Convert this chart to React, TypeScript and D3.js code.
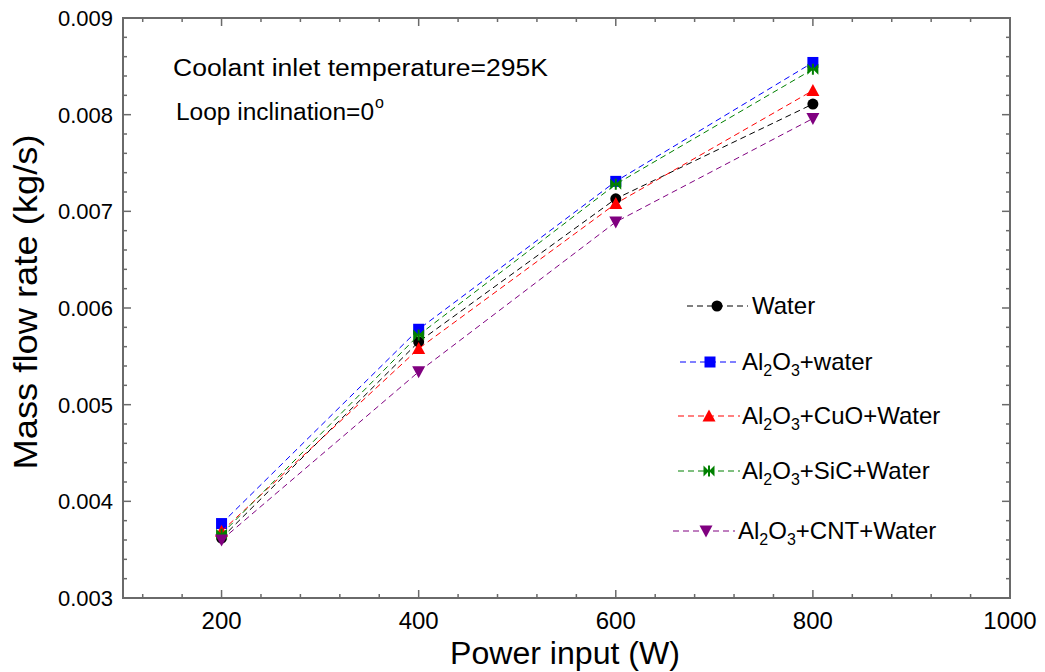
import React from "react";
import * as d3 from "d3";

const powers = [200, 400, 600, 800];
const water = [0.00362, 0.00565, 0.00713, 0.00811];
const al2o3Water = [0.00377, 0.00578, 0.00731, 0.00854];
const cuoWater = [0.00369, 0.00558, 0.00708, 0.00825];
const sicWater = [0.00366, 0.00572, 0.00728, 0.00847];
const cntWater = [0.0036, 0.00534, 0.00689, 0.00796];

const xMajorTicks = [200, 400, 600, 800, 1000];
const yMajorTicks = [0.003, 0.004, 0.005, 0.006, 0.007, 0.008, 0.009];

type Series = { name: string; values: number[]; color: string; marker: string; parts: [string, string][] };

const series: Series[] = [
  { name: "Water", values: water, color: "#000000", marker: "circle", parts: [["Water", "n"]] },
  { name: "Al2O3+water", values: al2o3Water, color: "#0000ff", marker: "square", parts: [["Al", "n"], ["2", "s"], ["O", "n"], ["3", "s"], ["+water", "n"]] },
  { name: "Al2O3+CuO+Water", values: cuoWater, color: "#ff0000", marker: "triangle", parts: [["Al", "n"], ["2", "s"], ["O", "n"], ["3", "s"], ["+CuO+Water", "n"]] },
  { name: "Al2O3+SiC+Water", values: sicWater, color: "#008000", marker: "bowtie", parts: [["Al", "n"], ["2", "s"], ["O", "n"], ["3", "s"], ["+SiC+Water", "n"]] },
  { name: "Al2O3+CNT+Water", values: cntWater, color: "#800080", marker: "down", parts: [["Al", "n"], ["2", "s"], ["O", "n"], ["3", "s"], ["+CNT+Water", "n"]] },
];

const legendRows = [
  { y: 306, x1: 687, x2: 748, mx: 717, tx: 752 },
  { y: 362, x1: 680, x2: 740, mx: 710, tx: 742 },
  { y: 416, x1: 678, x2: 740, mx: 709, tx: 742 },
  { y: 471, x1: 678, x2: 740, mx: 709, tx: 742 },
  { y: 531, x1: 673, x2: 735, mx: 706, tx: 738 },
];

function Marker({ type, x, y, color }: { type: string; x: number; y: number; color: string }) {
  if (type === "circle") return <circle cx={x} cy={y} r={5.5} fill={color} />;
  if (type === "square") return <rect x={x - 5.5} y={y - 5.5} width={11} height={11} fill={color} />;
  if (type === "triangle") return <path d={`M${x},${y - 6.5}L${x + 6.5},${y + 5.5}L${x - 6.5},${y + 5.5}Z`} fill={color} />;
  if (type === "down") return <path d={`M${x - 6.5},${y - 5.5}L${x + 6.5},${y - 5.5}L${x},${y + 6.5}Z`} fill={color} />;
  // bowtie
  return (
    <g fill={color}>
      <path d={`M${x - 5.5},${y - 5.5}L${x},${y}L${x - 5.5},${y + 5.5}Z`} />
      <path d={`M${x + 5.5},${y - 5.5}L${x},${y}L${x + 5.5},${y + 5.5}Z`} />
      <rect x={x - 1} y={y - 5.5} width={2} height={11} />
    </g>
  );
}

export default function App() {
  const left = 123, right = 1010, top = 18, bottom = 598;
  const x = d3.scaleLinear().domain([100, 1000]).range([left, right]);
  const y = d3.scaleLinear().domain([0.003, 0.009]).range([bottom, top]);
  const line = d3.line<number>();
  const font = "Liberation Sans, Arial, sans-serif";
  const frame = "#6a6a6a";

  const xMinor = d3.range(120, 1000, 40).filter((v) => !xMajorTicks.includes(v));
  const yMinor = d3.range(0.0032, 0.009, 0.0002).filter((v) => !yMajorTicks.some((m) => Math.abs(m - v) < 1e-9));

  return (
    <svg width={1045} height={672} style={{ position: "absolute", left: 0, top: 0, background: "#fff" }} fontFamily={font}>
      <rect x={0} y={0} width={1045} height={672} fill="#fff" />
      {/* ticks */}
      <g stroke={frame} strokeWidth={1.5}>
        {xMajorTicks.map((t) => (
          <g key={"xm" + t}>
            <line x1={x(t)} x2={x(t)} y1={bottom} y2={bottom - 8} />
            <line x1={x(t)} x2={x(t)} y1={top} y2={top + 8} />
          </g>
        ))}
        {xMinor.map((t) => (
          <g key={"xn" + t}>
            <line x1={x(t)} x2={x(t)} y1={bottom} y2={bottom - 4} />
            <line x1={x(t)} x2={x(t)} y1={top} y2={top + 4} />
          </g>
        ))}
        {yMajorTicks.map((t) => (
          <g key={"ym" + t}>
            <line x1={left} x2={left + 8} y1={y(t)} y2={y(t)} />
            <line x1={right} x2={right - 8} y1={y(t)} y2={y(t)} />
          </g>
        ))}
        {yMinor.map((t, i) => (
          <g key={"yn" + i}>
            <line x1={left} x2={left + 4} y1={y(t)} y2={y(t)} />
            <line x1={right} x2={right - 4} y1={y(t)} y2={y(t)} />
          </g>
        ))}
      </g>
      <rect x={left} y={top} width={right - left} height={bottom - top} fill="none" stroke={frame} strokeWidth={2} />

      {/* tick labels */}
      {xMajorTicks.map((t) => (
        <text key={"xl" + t} x={x(t)} y={629} textAnchor="middle" fontSize={24} fill="#000">
          {t}
        </text>
      ))}
      {yMajorTicks.map((t) => (
        <text key={"yl" + t} x={113} y={y(t) + 8} textAnchor="end" fontSize={22} fill="#000">
          {d3.format(".3f")(t)}
        </text>
      ))}

      {/* axis titles */}
      <text x={565} y={664} textAnchor="middle" fontSize={31} fill="#000" textLength={230} lengthAdjust="spacingAndGlyphs">
        Power input (W)
      </text>
      <text
        transform={`translate(37,302) rotate(-90)`}
        textAnchor="middle"
        fontSize={33}
        fill="#000"
        textLength={335}
        lengthAdjust="spacingAndGlyphs"
      >
        Mass flow rate (kg/s)
      </text>

      {/* annotations */}
      <text x={173} y={76} fontSize={23} fill="#000" textLength={375} lengthAdjust="spacingAndGlyphs">
        Coolant inlet temperature=295K
      </text>
      <text x={176} y={120} fontSize={23} fill="#000" textLength={198} lengthAdjust="spacingAndGlyphs">
        Loop inclination=0
      </text>
      <text x={375} y={108} fontSize={16} fill="#000">o</text>

      {/* series */}
      {series.map((s) => (
        <g key={s.name}>
          <path
            d={line(s.values.map((v, i) => [x(powers[i]), y(v)]) as any) || ""}
            fill="none"
            stroke={s.color}
            strokeWidth={1}
            strokeDasharray="6,4"
          />
          {s.values.map((v, i) => (
            <Marker key={i} type={s.marker} x={x(powers[i])} y={y(v)} color={s.color} />
          ))}
        </g>
      ))}

      {/* legend */}
      {series.map((s, i) => {
        const r = legendRows[i];
        return (
          <g key={"lg" + s.name}>
            <line x1={r.x1} x2={r.x2} y1={r.y} y2={r.y} stroke={s.color} strokeWidth={1} strokeDasharray="6,4" />
            <Marker type={s.marker} x={r.mx} y={r.y} color={s.color} />
            <text x={r.tx} y={r.y + 8} fontSize={24} fill="#000">
              {s.parts.map(([t, k], j) => {
                const prev = j > 0 ? s.parts[j - 1][1] : "n";
                const dy = k === "s" && prev === "n" ? 6 : k === "n" && prev === "s" ? -6 : 0;
                return (
                  <tspan key={j} dy={dy} fontSize={k === "s" ? 16 : 24}>
                    {t}
                  </tspan>
                );
              })}
            </text>
          </g>
        );
      })}
    </svg>
  );
}
